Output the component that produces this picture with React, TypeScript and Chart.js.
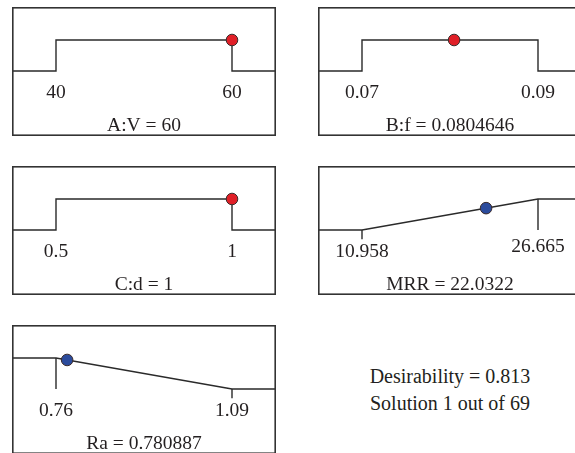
import React, { useEffect, useRef } from "react";
import { Chart, registerables } from "chart.js";
Chart.register(...registerables);

// Factors (range goal)
const factorNames = ["A:V", "B:f", "C:d"];
const factorLow = [40, 0.07, 0.5];
const factorHigh = [60, 0.09, 1];
const factorValue = [60, 0.0804646, 1];

// Responses
const responseNames = ["MRR", "Ra"];
const responseLow = [10.958, 0.76];
const responseHigh = [26.665, 1.09];
const responseValue = [22.0322, 0.780887];
const responseGoal = ["maximize", "minimize"];

const desirability = 0.813;
const solutionIndex = 1;
const solutionCount = 69;

const FONT = '"Liberation Serif", "DejaVu Serif", serif';
const TEXT = "#231f20";
const LINE = "#2a2a2a";
const RED = "#e01f27";
const BLUE = "#2b4b9c";

const W = 264;
const H = 129;

type Goal = "range" | "maximize" | "minimize";
type PanelSpec = {
  name: string;
  low: number;
  high: number;
  value: number;
  goal: Goal;
  color: string;
  left: number;
  top: number;
};

const panels: PanelSpec[] = [
  { name: factorNames[0], low: factorLow[0], high: factorHigh[0], value: factorValue[0], goal: "range", color: RED, left: 12, top: 7 },
  { name: factorNames[1], low: factorLow[1], high: factorHigh[1], value: factorValue[1], goal: "range", color: RED, left: 318, top: 7 },
  { name: factorNames[2], low: factorLow[2], high: factorHigh[2], value: factorValue[2], goal: "range", color: RED, left: 12, top: 166 },
  { name: responseNames[0], low: responseLow[0], high: responseHigh[0], value: responseValue[0], goal: responseGoal[0] as Goal, color: BLUE, left: 318, top: 166 },
  { name: responseNames[1], low: responseLow[1], high: responseHigh[1], value: responseValue[1], goal: responseGoal[1] as Goal, color: BLUE, left: 12, top: 325 },
];

function desir(p: PanelSpec): number {
  if (p.goal === "range") return p.value >= p.low && p.value <= p.high ? 1 : 0;
  const t = (p.value - p.low) / (p.high - p.low);
  return p.goal === "maximize" ? t : 1 - t;
}

function Panel({ spec }: { spec: PanelSpec }) {
  const ref = useRef<HTMLCanvasElement>(null);
  useEffect(() => {
    if (!ref.current) return;
    const { low, high, goal } = spec;
    const span = high - low;
    const xmin = low - span * 0.25;
    const xmax = high + span * 0.25;
    let curve: { x: number; y: number }[] = [];
    const stems: { x: number; y: number }[][] = [];
    if (goal === "range") {
      curve = [
        { x: xmin, y: 0 }, { x: low, y: 0 }, { x: low, y: 1 },
        { x: high, y: 1 }, { x: high, y: 0 }, { x: xmax, y: 0 },
      ];
    } else if (goal === "maximize") {
      curve = [{ x: xmin, y: 0 }, { x: low, y: 0 }, { x: high, y: 1 }, { x: xmax, y: 1 }];
      stems.push([{ x: low, y: 0 }, { x: low, y: -0.3 }]);
      stems.push([{ x: high, y: 1 }, { x: high, y: 0 }]);
    } else {
      curve = [{ x: xmin, y: 1 }, { x: low, y: 1 }, { x: high, y: 0 }, { x: xmax, y: 0 }];
      stems.push([{ x: low, y: 1 }, { x: low, y: 0 }]);
      stems.push([{ x: high, y: 0 }, { x: high, y: -0.3 }]);
    }
    const d = desir(spec);
    const lineDs = (data: { x: number; y: number }[]) => ({
      data,
      borderColor: LINE,
      borderWidth: 1.4,
      pointRadius: 0,
      fill: false,
      tension: 0,
      order: 1,
    });
    const boxPlugin = {
      id: "box",
      afterDraw(chart: any) {
        const ctx = chart.ctx as CanvasRenderingContext2D;
        const xs = chart.scales.x;
        const ys = chart.scales.y;
        ctx.save();
        ctx.strokeStyle = "#333";
        ctx.lineWidth = 1.6;
        ctx.strokeRect(0.8, 0.8, W - 1.6, H - 1.6);
        ctx.fillStyle = TEXT;
        ctx.font = `19.5px ${FONT}`;
        ctx.textAlign = "center";
        ctx.textBaseline = "middle";
        const y0 = ys.getPixelForValue(0);
        ctx.fillText(String(low), xs.getPixelForValue(low), y0 + 22);
        const hiOff = goal === "maximize" ? 17 : 22;
        ctx.fillText(String(high), xs.getPixelForValue(high), y0 + hiOff);
        ctx.textBaseline = "alphabetic";
        ctx.fillText(`${spec.name} = ${spec.value}`, W / 2, H - 5);
        ctx.restore();
      },
    };
    const chart = new Chart(ref.current, {
      type: "line",
      data: {
        datasets: [
          {
            data: [{ x: spec.value, y: d }],
            showLine: false,
            pointRadius: 5.8,
            pointBackgroundColor: spec.color,
            pointBorderColor: "#3a2a2a",
            pointBorderWidth: 1,
            order: -1,
          } as any,
          lineDs(curve),
          ...stems.map(lineDs),
        ],
      },
      options: {
        animation: false,
        responsive: false,
        maintainAspectRatio: false,
        layout: { padding: 0, autoPadding: false },
        scales: {
          x: { type: "linear", min: xmin, max: xmax, display: false },
          y: { type: "linear", min: -(H - 64) / 31, max: 1 + 33 / 31, display: false },
        },
        plugins: { legend: { display: false }, tooltip: { enabled: false } },
        events: [],
      },
      plugins: [boxPlugin],
    } as any);
    return () => chart.destroy();
  }, [spec]);
  return (
    <canvas
      ref={ref}
      width={W}
      height={H}
      style={{ position: "absolute", left: spec.left, top: spec.top, width: W, height: H, display: "block" }}
    />
  );
}

export default function App() {
  return (
    <div
      style={{
        position: "fixed",
        left: 0,
        top: 0,
        width: 575,
        height: 453,
        overflow: "hidden",
        background: "#fff",
      }}
    >
      {panels.map((p, i) => (
        <Panel key={i} spec={p} />
      ))}
      <div
        style={{
          position: "absolute",
          left: 330,
          top: 363,
          width: 240,
          textAlign: "center",
          fontFamily: FONT,
          fontSize: 20,
          lineHeight: "27px",
          color: TEXT,
        }}
      >
        <div>Desirability = {desirability}</div>
        <div>
          Solution {solutionIndex} out of {solutionCount}
        </div>
      </div>
    </div>
  );
}
